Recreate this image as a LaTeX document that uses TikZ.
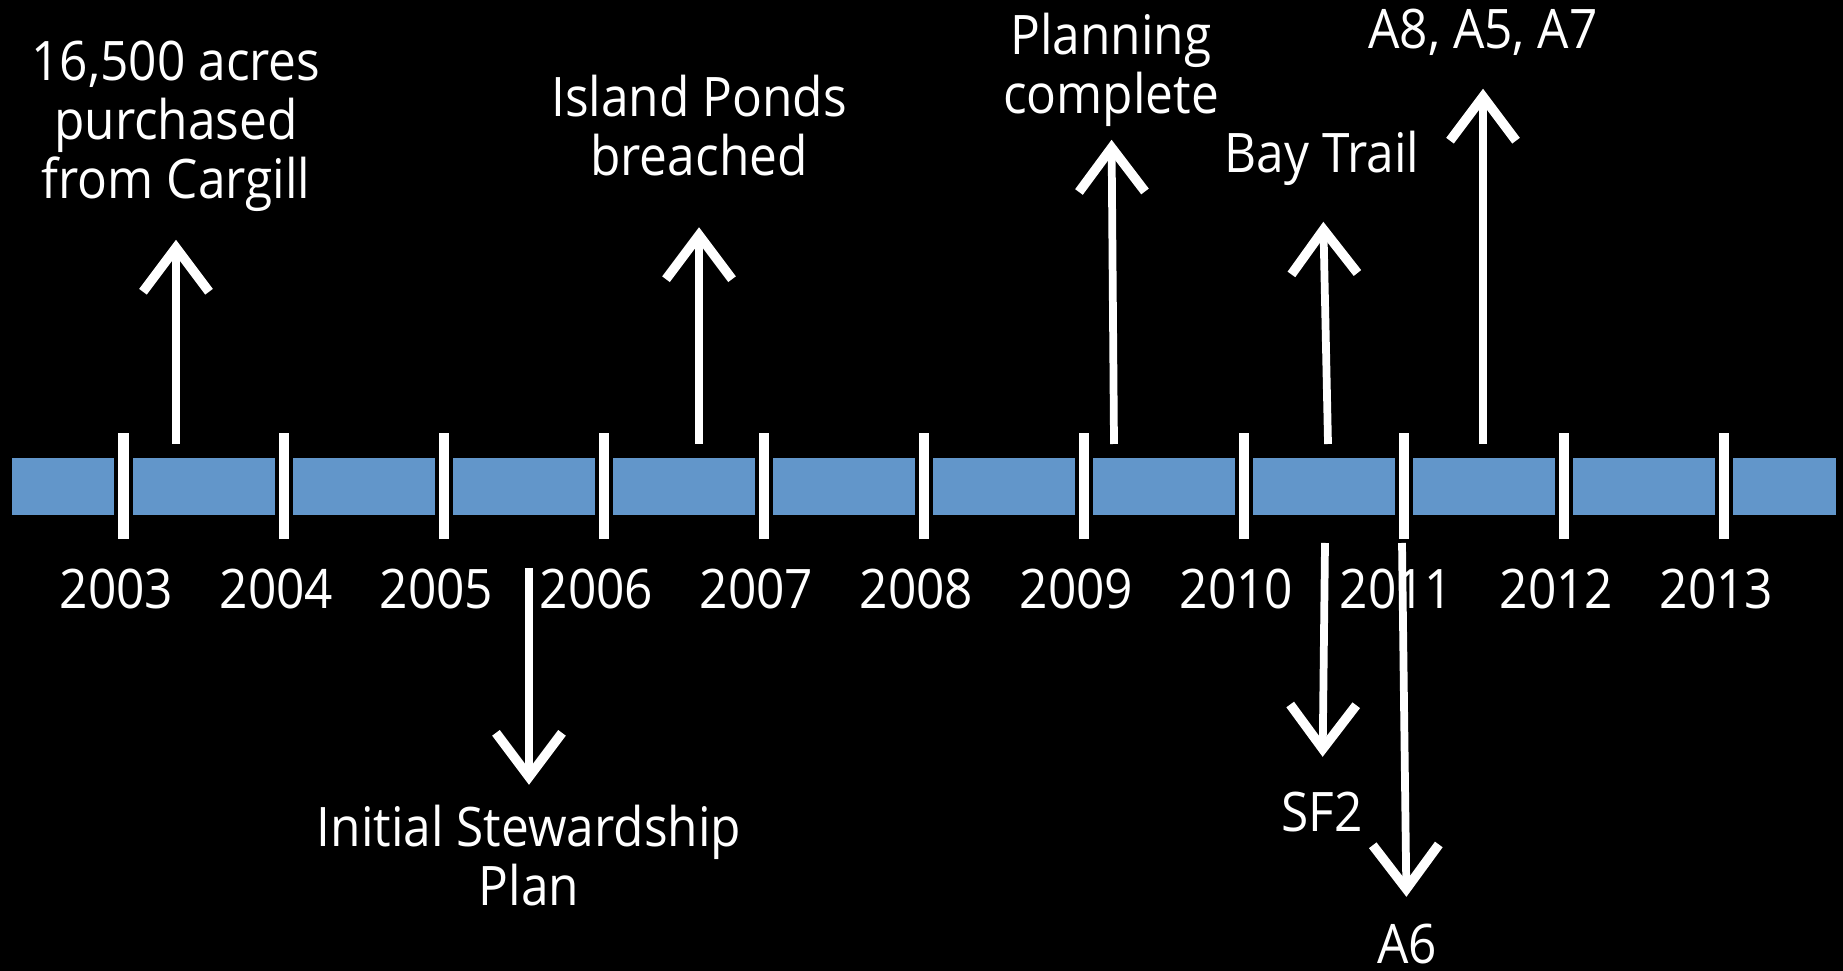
\documentclass[tikz,border=0pt]{standalone}
\usepackage{fontspec}
\setmainfont{Open Sans}[FakeStretch=0.91]
\usetikzlibrary{arrows.meta}
\definecolor{barblue}{RGB}{98,150,202}

\begin{document}
\begin{tikzpicture}[
    x=0.01cm, y=-0.01cm,
    yeartick/.style={rectangle, draw=black, fill=white, line width=0.04cm, minimum width=0.14cm, minimum height=1.1cm, inner sep=0pt},
    year/.style={anchor=base, text=white, inner sep=0pt, font=\fontsize{15.5pt}{16.8pt}\selectfont},
    event/.style={anchor=base, text=white, align=center, inner sep=0pt, font=\fontsize{15.5pt}{16.8pt}\selectfont},
    leads/.style={draw=white, line width=2.2pt, -{Straight Barb[length=4.4mm, width=6.6mm, line width=2.7pt]}}
]

% Background and time bar
\path[use as bounding box, fill=black] (0,0) rectangle (1843,971);
\fill[barblue] (12,458) rectangle (1836,515);

% Year ticks
\node[yeartick] (t2003) at (123.5,486) {};
\node[yeartick] (t2004) at (283.5,486) {};
\node[yeartick] (t2005) at (443.5,486) {};
\node[yeartick] (t2006) at (603.5,486) {};
\node[yeartick] (t2007) at (763.5,486) {};
\node[yeartick] (t2008) at (923.5,486) {};
\node[yeartick] (t2009) at (1083.5,486) {};
\node[yeartick] (t2010) at (1243.5,486) {};
\node[yeartick] (t2011) at (1403.5,486) {};
\node[yeartick] (t2012) at (1563.5,486) {};
\node[yeartick] (t2013) at (1723.5,486) {};

% Year labels
\node[year] (y2003) at (116.5,609) {2003};
\node[year] (y2004) at (276.5,609) {2004};
\node[year] (y2005) at (436.5,609) {2005};
\node[year] (y2006) at (596.5,609) {2006};
\node[year] (y2007) at (756.5,609) {2007};
\node[year] (y2008) at (916.5,609) {2008};
\node[year] (y2009) at (1076.5,609) {2009};
\node[year] (y2010) at (1236.5,609) {2010};
\node[year] (y2011) at (1396.5,609) {2011};
\node[year] (y2012) at (1556.5,609) {2012};
\node[year] (y2013) at (1716.5,609) {2013};

% Events above the bar (placed at last baseline)
\node[event] (purchase) at (176,199) {16,500 acres\\purchased\\from Cargill};
\node[event] (breach) at (699,176) {Island Ponds\\breached};
\node[event] (planning) at (1111,114) {Planning\\complete};
\node[event] (baytrail) at (1322,173) {Bay Trail};
\node[event] (ponds) at (1483,49) {A8, A5, A7};

% Events below the bar
\node[event] (stewardship) at (529,906) {Initial Stewardship\\Plan};
\node[event] (sftwo) at (1322,832) {SF2};
\node[event] (asix) at (1407,964) {A6};

% Arrow starts
\coordinate (c1) at (176,444);
\coordinate (c2) at (699,444);
\coordinate (c3) at (1114,444);
\coordinate (c4) at (1328,444);
\coordinate (c5) at (1483,444);
\coordinate (c6) at (529,568);
\coordinate (c7) at (1325,543);
\coordinate (c8) at (1402,543);

% Arrows
\draw[leads, shorten >=0.27cm] (c1) -- (purchase);
\draw[leads, shorten >=0.5cm] (c2) -- (breach);
\draw[leads, shorten >=0.12cm] (c3) -- (planning);
\draw[leads, shorten >=0.35cm] (c4) -- (baytrail);
\draw[leads, shorten >=0.32cm] (c5) -- (ponds);
\draw[leads, shorten >=0.2cm] (c6) -- (stewardship);
\draw[leads, shorten >=0.35cm] (c7) -- (sftwo);
\draw[leads, shorten >=0.27cm] (c8) -- (asix);

\end{tikzpicture}
\end{document}
